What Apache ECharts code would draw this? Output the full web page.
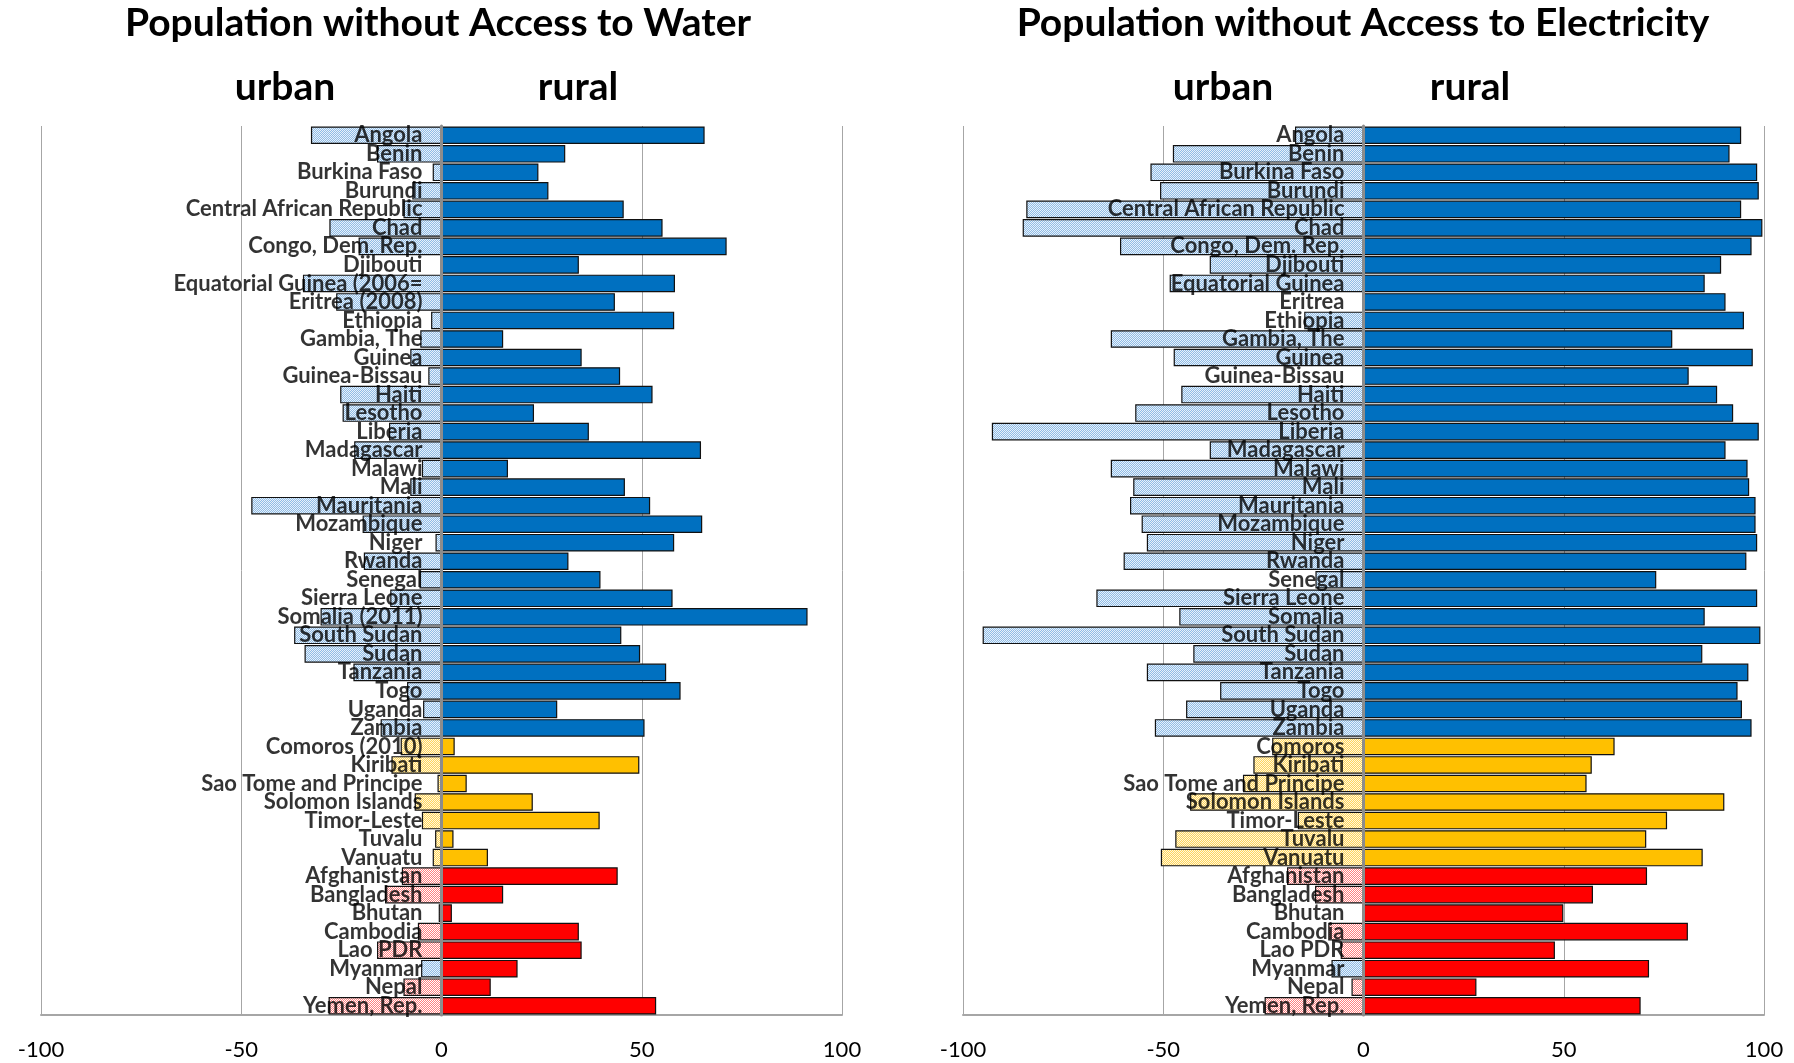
<!DOCTYPE html>
<html>
<head>
<meta charset="utf-8">
<script src="https://cdn.jsdelivr.net/npm/echarts@6/dist/echarts.min.js"></script>
<style>
html,body{margin:0;padding:0;background:#fff;}
#chart{width:1794px;height:1063px;}
</style>
</head>
<body>
<div id="chart"></div>
<script>
const waterCats = ["Angola","Benin","Burkina Faso","Burundi","Central African Republic","Chad","Congo, Dem. Rep.","Djibouti","Equatorial Guinea (2006=","Eritrea (2008)","Ethiopia","Gambia, The","Guinea","Guinea-Bissau","Haiti","Lesotho","Liberia","Madagascar","Malawi","Mali","Mauritania","Mozambique","Niger","Rwanda","Senegal","Sierra Leone","Somalia (2011)","South Sudan","Sudan","Tanzania","Togo","Uganda","Zambia","Comoros (2010)","Kiribati","Sao Tome and Principe","Solomon Islands","Timor-Leste","Tuvalu","Vanuatu","Afghanistan","Bangladesh","Bhutan","Cambodia","Lao PDR","Myanmar","Nepal","Yemen, Rep."];
const elecCats = ["Angola","Benin","Burkina Faso","Burundi","Central African Republic","Chad","Congo, Dem. Rep.","Djibouti","Equatorial Guinea","Eritrea","Ethiopia","Gambia, The","Guinea","Guinea-Bissau","Haiti","Lesotho","Liberia","Madagascar","Malawi","Mali","Mauritania","Mozambique","Niger","Rwanda","Senegal","Sierra Leone","Somalia","South Sudan","Sudan","Tanzania","Togo","Uganda","Zambia","Comoros","Kiribati","Sao Tome and Principe","Solomon Islands","Timor-Leste","Tuvalu","Vanuatu","Afghanistan","Bangladesh","Bhutan","Cambodia","Lao PDR","Myanmar","Nepal","Yemen, Rep."];
const regions = ["af","af","af","af","af","af","af","af","af","af","af","af","af","af","af","af","af","af","af","af","af","af","af","af","af","af","af","af","af","af","af","af","af","pa","pa","pa","pa","pa","pa","pa","as","as","as","as","as","as","as","as"];
const waterUrban = [-32.6,-16.1,-2.2,-7.3,-9.5,-28.0,-20.7,0,-34.6,-26.3,-2.6,-5.3,-7.8,-3.3,-25.3,-24.7,-13.1,-21.8,-4.9,-7.8,-47.5,-19.7,-1.5,-19.4,-5.5,-12.8,-30.2,-36.8,-34.2,-22.0,-8.6,-4.6,-15.2,-10.2,-12.5,-1.0,-6.7,-4.9,-1.6,-2.2,-9.9,-14.1,-0.7,-5.9,-16.1,-5.1,-9.5,-28.2];
const waterRural = [65.7,30.9,24.2,26.7,45.5,55.2,71.2,34.3,58.3,43.3,58.1,15.4,35.0,44.6,52.7,23.1,36.8,64.8,16.6,45.8,52.1,65.1,58.1,31.7,39.7,57.7,91.4,44.9,49.6,56.1,59.7,28.9,50.7,3.3,49.4,6.3,22.8,39.5,3.0,11.6,44.0,15.4,2.6,34.3,35.0,19.0,12.3,53.6];
const elecUrban = [-17.1,-47.6,-53.2,-50.8,-84.2,-85.1,-60.8,-38.4,-48.4,0,-14.8,-63.1,-47.4,0,-45.5,-57.0,-92.8,-38.4,-63.1,-57.5,-58.3,-55.4,-54.1,-59.9,-12.0,-66.7,-46.0,-95.1,-42.5,-54.1,-35.8,-44.3,-52.1,-22.8,-27.5,-30.1,-43.3,-16.4,-47.0,-50.6,-19.1,-12.1,0,-8.8,-5.7,-8.0,-3.0,-24.7];
const elecRural = [94.3,91.4,98.3,98.7,94.3,99.6,96.9,89.3,85.2,90.4,95.0,77.1,97.2,81.2,88.3,92.3,98.7,90.4,95.9,96.3,97.9,97.9,98.3,95.6,73.1,98.3,85.2,99.1,84.6,96.1,93.4,94.5,96.9,62.7,57.0,55.7,90.1,75.8,70.6,84.7,70.8,57.3,49.9,81.0,47.8,71.3,28.2,69.2];
const xTicks = [-100,-50,0,50,100];
const titles = ["Population without Access to Water","Population without Access to Electricity"];
const sideLabels = ["urban","rural"];

const ruralColors = {af:'#0070C0', pa:'#FFC000', as:'#FF0000'};
function makePattern(bg, dot){
  const c = document.createElement('canvas');
  c.width = 2; c.height = 2;
  const ctx = c.getContext('2d');
  ctx.fillStyle = bg; ctx.fillRect(0,0,2,2);
  ctx.fillStyle = dot; ctx.fillRect(0,0,1,1); ctx.fillRect(1,1,1,1);
  return {image: c, repeat: 'repeat'};
}
const urbanPatterns = {
  af: makePattern('#8FBCE6','#E8F1FA'),
  pa: makePattern('#FFD55A','#FFF7DD'),
  as: makePattern('#FF7F7F','#FFFFFF')
};
function urbanColor(i, cats){
  if (cats[i] === 'Myanmar') return urbanPatterns.af;
  return urbanPatterns[regions[i]];
}

const FONT = 'Lato, "Open Sans", sans-serif';
const grids = [
  {left: 41, right: 952, top: 126, bottom: 48, outerBoundsMode:'none', containLabel:false},
  {left: 963, right: 30, top: 126, bottom: 48, outerBoundsMode:'none', containLabel:false}
];
const xAxes = [0,1].map(g => ({
  type:'value', gridIndex:g, min: xTicks[0], max: xTicks[xTicks.length-1], interval: 50,
  axisLine:{show:true, onZero:false, lineStyle:{color:'#A6A6A6', width:2}},
  axisTick:{show:false},
  splitLine:{show:true, lineStyle:{color:'#A6A6A6', width:1}},
  axisLabel:{fontFamily:FONT, fontSize:22, color:'#000', margin:24}
}));
const catsList = [waterCats, elecCats];
const yAxes = [0,1].map(g => ({
  type:'category', gridIndex:g, data: catsList[g], inverse:true, z: 10,
  axisLine:{show:true, onZero:true, lineStyle:{color:'#8C8C8C', width:3}},
  axisTick:{show:false},
  axisLabel:{show:false}
}));
function mkSeries(g, urban, rural, cats){
  return [
    {type:'bar', xAxisIndex:g, yAxisIndex:g, barGap:'-100%', barCategoryGap:'5%',
     data: rural.map((v,i)=>({value:v, itemStyle:{color: ruralColors[regions[i]]}})),
     itemStyle:{borderColor:'#111', borderWidth:1.2}},
    {type:'bar', xAxisIndex:g, yAxisIndex:g, barGap:'-100%', barCategoryGap:'5%',
     data: urban.map((v,i)=>({value:v, itemStyle:{color: urbanColor(i, cats)}})),
     itemStyle:{borderColor:'#111', borderWidth:1.2}},
    {type:'scatter', xAxisIndex:g, yAxisIndex:g, z: 20, silent:true,
     symbol:'circle', symbolSize: 2, itemStyle:{color:'rgba(0,0,0,0)'},
     labelLayout:{hideOverlap:false},
     data: cats.map((c,i) => ({value:[0, i], name:c})),
     label:{show:true, position:'left', distance:18, color:'#000',
            fontFamily:FONT, fontWeight:'bold', fontSize:22,
            formatter: '{b}'}}
  ];
}
const graphics = [];
const titleX = [438, 1363];
const sideX = [[285, 578],[1223, 1470]];
[0,1].forEach(g => {
  graphics.push({type:'text', x:titleX[g], y:23, style:{text:titles[g], font:'bold 39px '+FONT, fill:'#000', align:'center', verticalAlign:'middle'}});
  sideLabels.forEach((s,k) => {
    graphics.push({type:'text', x:sideX[g][k], y:87, style:{text:s, font:'bold 39px '+FONT, fill:'#000', align:'center', verticalAlign:'middle'}});
  });
});

const chart = echarts.init(document.getElementById('chart'));
chart.setOption({
  animation:false,
  grid: grids,
  xAxis: xAxes,
  yAxis: yAxes,
  series: [...mkSeries(0, waterUrban, waterRural, waterCats), ...mkSeries(1, elecUrban, elecRural, elecCats)],
  graphic: graphics
});
</script>
</body>
</html>
